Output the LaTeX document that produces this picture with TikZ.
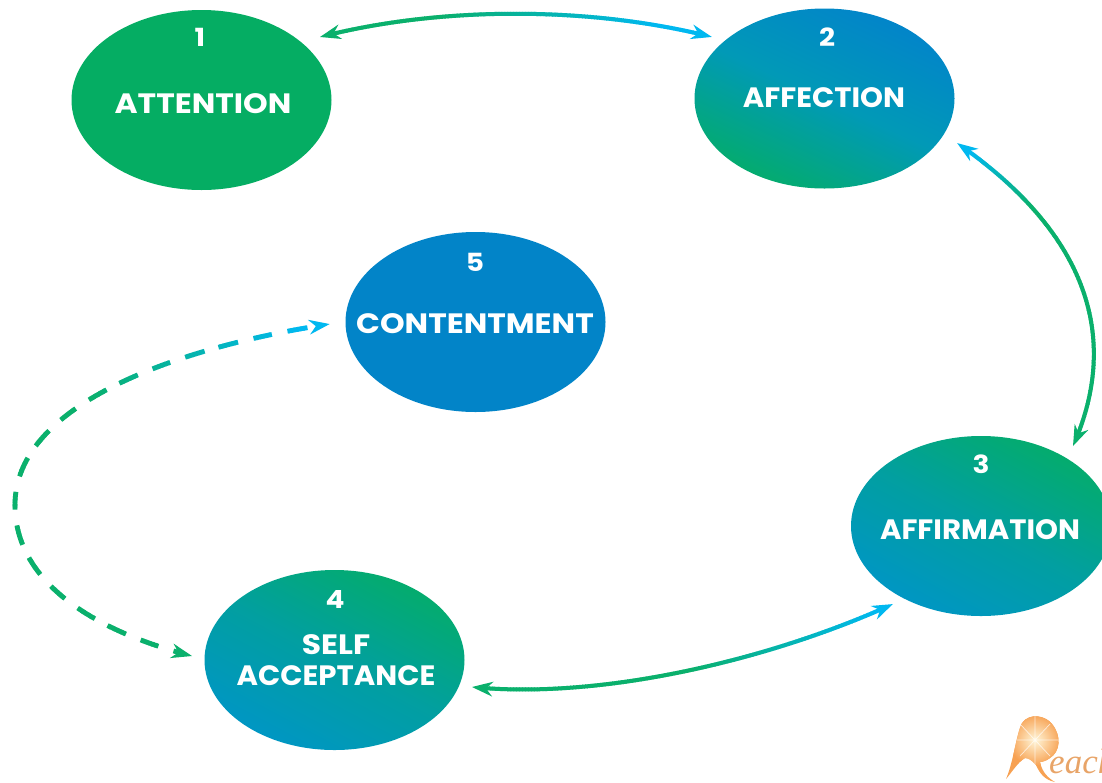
\documentclass[tikz,border=0pt]{standalone}
\usepackage{fontspec}
\setmainfont{Poppins}[BoldFont={Poppins Bold},BoldFeatures={FakeStretch=1.12}]
\newfontfamily\logofont{Liberation Serif}
\usetikzlibrary{shapes.geometric,decorations.markings}
\definecolor{solidgreen}{HTML}{05AD63}
\definecolor{solidblue}{HTML}{0284C8}
\definecolor{shadeblue}{HTML}{0284CA}
\definecolor{shadeblueb}{HTML}{0096C4}
\definecolor{shadegreen}{HTML}{04AC6C}
\definecolor{linegreen}{HTML}{0AB06C}
\definecolor{linecyan}{HTML}{00B8F0}
\definecolor{logoorange}{HTML}{F7A152}
\definecolor{logotext}{HTML}{E8A468}
\definecolor{logolight}{HTML}{FFF6D8}
\newcommand{\gradA}{0}\newcommand{\gradB}{1}\newcommand{\dashOn}{10000}\newcommand{\dashPer}{10000}\newcommand{\halfW}{2}
\newcommand{\narrowtext}[1]{\scalebox{.93}[1]{#1}}
\tikzset{
  x=1pt,y=-1pt,
  bubble/.style={ellipse,minimum width=260pt,minimum height=180pt,inner sep=0pt,outer sep=0pt},
  flatgreen/.style={bubble,fill=solidgreen},
  flatblue/.style={bubble,fill=solidblue},
  bluegreen/.style={bubble,shade,top color=shadeblue,bottom color=shadegreen,middle color=shadeblueb!85!shadegreen,shading angle=-25},
  greenblue/.style={bubble,shade,top color=shadegreen,bottom color=shadeblueb,middle color=shadeblueb!60!shadegreen,shading angle=-28},
  numlabel/.style={text=white,font=\fontsize{25}{25}\selectfont\bfseries,inner sep=0pt},
  namelabel/.style={text=white,font=\fontsize{28}{28}\selectfont\bfseries,inner sep=0pt},
  gradient stroke/.style={
    postaction={decorate,decoration={markings,
      mark=between positions 0 and 1 step 1.5pt with {%
        \pgfmathsetmacro\myd{\pgfkeysvalueof{/pgf/decoration/mark info/distance from start}}%
        \pgfmathsetmacro\myL{\pgfdecoratedpathlength}%
        \pgfmathsetmacro\myf{\myd/\myL}%
        \pgfmathtruncatemacro\myp{100*max(0,min(1,(\myf-\gradA)/(\gradB-\gradA)))}%
        \pgfmathtruncatemacro\myon{and(and(\myd>10,\myd<\myL-10),mod(\myd,\dashPer)<\dashOn) ? 1 : 0}%
        \ifnum\myon=1
          \colorlet{mycc}{linecyan!\myp!linegreen}%
          \fill[mycc] (-1.1,-\halfW) rectangle (1.1,\halfW);
        \fi
      }}},
    postaction={decorate,decoration={markings,
      mark=at position 0 with {\fill[linegreen] (0,0) -- (21,7.5) -- (14,0) -- (21,-7.5) -- cycle;},
      mark=at position 0.9995 with {\fill[linecyan] (0,0) -- (-21,7.5) -- (-14,0) -- (-21,-7.5) -- cycle;}}}
  }
}
\begin{document}
\begin{tikzpicture}
\useasboundingbox (0,0) rectangle (1102,782);
\node[flatgreen] (n1) at (201.5,100) {};
\node[bluegreen] (n2) at (824.5,98.5) {};
\node[greenblue] (n3) at (981,526) {};
\node[greenblue] (n4) at (334.5,660) {};
\node[flatblue] (n5) at (475.5,322) {};
\node[numlabel] (t1) at (200,37) {1};
\node[namelabel] (l1) at (203,104) {ATTENTION};
\node[numlabel] (t2) at (827,37) {2};
\node[namelabel] (l2) at (824,98) {\narrowtext{AFFECTION}};
\node[numlabel] (t3) at (981,464) {3};
\node[namelabel] (l3) at (980,530) {\narrowtext{AFFIRMATION}};
\node[numlabel] (t4) at (335,599) {4};
\node[namelabel] (l4a) at (336,645) {SELF};
\node[namelabel] (l4b) at (336,676) {\narrowtext{ACCEPTANCE}};
\node[numlabel] (t5) at (475,262) {5};
\node[namelabel] (l5) at (475,324) {CONTENTMENT};
% connectors
\renewcommand{\gradA}{0.3}\renewcommand{\gradB}{0.85}
\path[gradient stroke] ([shift={(118.5,-63)}]n1.center) .. controls +(120,-31) and +(-122,-31) .. ([shift={(-112.5,-61.5)}]n2.center);
\renewcommand{\gradA}{0.72}\renewcommand{\gradB}{0.95}
\path[gradient stroke] ([shift={(92,-80)}]n3.center) .. controls +(47,-106) and +(133,92) .. ([shift={(132.5,44.5)}]n2.center);
\renewcommand{\gradA}{0.5}\renewcommand{\gradB}{0.95}
\path[gradient stroke] ([shift={(137.5,27)}]n4.center) .. controls +(128,13) and +(-123,56) .. ([shift={(-88,78)}]n3.center);
\renewcommand{\gradA}{0.6}\renewcommand{\gradB}{0.95}\renewcommand{\dashOn}{19}\renewcommand{\dashPer}{35}\renewcommand{\halfW}{2.4}
\path[gradient stroke] ([shift={(-142.5,-4)}]n4.center) .. controls +(-102,-26) and +(0,75) .. (15,505) .. controls (15,400) and (190,345) .. ([shift={(-145.5,2)}]n5.center);
% logo
\begin{scope}
\path[clip] (1006,779) .. controls (1014,760) and (1016,735) .. (1022,723) .. controls (1030,712) and (1046,716) .. (1052,724) .. controls (1062,736) and (1060,752) .. (1050,758) .. controls (1046,761) and (1042,762) .. (1040,762) .. controls (1042,772) and (1048,778) .. (1055,782) .. controls (1045,780) and (1040,774) .. (1036,765) .. controls (1032,760) and (1028,758) .. (1025,758) .. controls (1018,762) and (1012,772) .. (1006,779) -- cycle;
\fill[logoorange] (1000,710) rectangle (1065,785);
\shade[inner color=logolight,outer color=logoorange] (1035,740) circle (26);
\draw[white,line width=.7pt,opacity=.7] (1035,715) -- (1035,765) (1012,740) -- (1060,740) (1020,724) -- (1050,756) (1050,724) -- (1020,756);
\end{scope}
\node[anchor=base west,inner sep=0pt,text=logotext,font=\logofont\itshape\fontsize{35}{35}\selectfont] (logo) at (1049,773) {each};
\end{tikzpicture}
\end{document}
